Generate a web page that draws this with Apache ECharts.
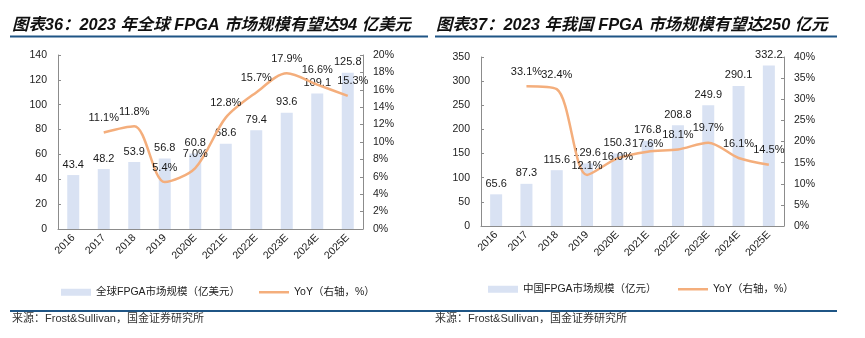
<!DOCTYPE html>
<html><head><meta charset="utf-8">
<script src="https://cdn.jsdelivr.net/npm/echarts@6/dist/echarts.min.js"></script>
<style>html,body{margin:0;padding:0;background:#fff}#c{width:865px;height:338px}</style>
</head><body><div id="c"></div>
<script>
const categories = ['2016','2017','2018','2019','2020E','2021E','2022E','2023E','2024E','2025E'];
const globalMarket = [43.4,48.2,53.9,56.8,60.8,68.6,79.4,93.6,109.1,125.8];
const globalYoY = ['-',11.1,11.8,5.4,7.0,12.8,15.7,17.9,16.6,15.3];
const chinaMarket = [65.6,87.3,115.6,129.6,150.3,176.8,208.8,249.9,290.1,332.2];
const chinaYoY = ['-',33.1,32.4,12.1,16.0,17.6,18.1,19.7,16.1,14.5];
const leftTitle = '图表36：2023 年全球 FPGA 市场规模有望达94 亿美元';
const rightTitle = '图表37：2023 年我国 FPGA 市场规模有望达250 亿元';
const sourceText = '来源：Frost&Sullivan，国金证券研究所';
const globalName = '全球FPGA市场规模（亿美元）';
const chinaName = '中国FPGA市场规模（亿元）';
const yoyName = 'YoY（右轴，%）';

const FONT = '"Liberation Sans","Noto Sans CJK SC",sans-serif';
const BAR = '#d9e2f3';
const LINE = '#f4ae7c';
const AX = '#8c8c8c';
const NAVY = '#1f5585';

// label nudges (index -> [dx, dy]) for YoY labels, as placed in the reference
const globalYoYNudge = {9:[5,0]};
const chinaYoYNudge = {3:[0,6], 4:[0,13], 5:[0,7]};

function xAxis(gi){
  return {type:'category', gridIndex:gi, data:categories, boundaryGap:true,
    axisLine:{lineStyle:{color:AX}}, axisTick:{show:false},
    axisLabel:{rotate:45, fontSize:10.5, color:'#222', fontFamily:FONT, margin:7, interval:0}};
}
function yAxis(gi, pos, min, max, interval, fmt){
  return {type:'value', gridIndex:gi, position:pos, min:min, max:max, interval:interval,
    splitLine:{show:false},
    axisLine:{show:true, lineStyle:{color:AX}},
    axisTick:{show:true, inside:true, length:3, lineStyle:{color:AX}},
    axisLabel:{fontSize:10.5, color:'#222', fontFamily:FONT, margin:pos==='left'?11:10, formatter:fmt}};
}
const valLabel = {show:true, position:'top', distance:5, fontSize:11, color:'#1a1a1a', fontFamily:FONT,
  formatter:p=>Number(p.value).toFixed(1)};
const pctLabel = {show:true, position:'top', distance:9, fontSize:11, color:'#1a1a1a', fontFamily:FONT,
  formatter:p=>Number(p.value).toFixed(1)+'%'};

function yoySeries(xi, yi, data, nudge){
  const items = data.map((v,i)=> nudge[i] ? {value:v, label:{offset:nudge[i]}} : v);
  return {name:yoyName, type:'line', xAxisIndex:xi, yAxisIndex:yi, data:items, smooth:0.3,
    symbol:'circle', symbolSize:0.01, showSymbol:true,
    lineStyle:{color:LINE, width:2.5}, itemStyle:{color:LINE},
    label:pctLabel, z:3};
}

const chart = echarts.init(document.getElementById('c'), null, {renderer:'canvas'});
chart.setOption({
  animation:false,
  backgroundColor:'#fff',
  grid:[
    {left:58, right:502, top:55, bottom:109},
    {left:481, right:81, top:57, bottom:112}
  ],
  xAxis:[xAxis(0), xAxis(1)],
  yAxis:[
    yAxis(0,'left',0,140,20,'{value}'),
    yAxis(0,'right',0,20,2,'{value}%'),
    yAxis(1,'left',0,350,50,'{value}'),
    yAxis(1,'right',0,40,5,'{value}%')
  ],
  legend:[
    {data:[globalName], left:56, top:282, icon:'rect', itemWidth:30, itemHeight:7,
      textStyle:{fontSize:10.5, color:'#222', fontFamily:FONT}},
    {data:[{name:yoyName}], left:254, top:282, icon:'rect', itemWidth:30, itemHeight:2.5,
      textStyle:{fontSize:10.5, color:'#222', fontFamily:FONT}},
    {data:[chinaName], left:483, top:279, icon:'rect', itemWidth:30, itemHeight:7,
      textStyle:{fontSize:10.5, color:'#222', fontFamily:FONT}},
    {data:[{name:yoyName}], left:673, top:279, icon:'rect', itemWidth:30, itemHeight:2.5,
      textStyle:{fontSize:10.5, color:'#222', fontFamily:FONT}}
  ],
  series:[
    {name:globalName, type:'bar', xAxisIndex:0, yAxisIndex:0, data:globalMarket, barWidth:12,
      itemStyle:{color:BAR}, label:valLabel, z:2},
    yoySeries(0,1,globalYoY,globalYoYNudge),
    {name:chinaName, type:'bar', xAxisIndex:1, yAxisIndex:2, data:chinaMarket, barWidth:12,
      itemStyle:{color:BAR}, label:valLabel, z:2},
    yoySeries(1,3,chinaYoY,chinaYoYNudge)
  ],
  graphic:[
    {type:'text', left:12, top:17, style:{text:leftTitle, fontSize:16.4, fontWeight:'bold', fontStyle:'italic', fill:'#111', fontFamily:FONT}},
    {type:'text', left:436, top:17, style:{text:rightTitle, fontSize:16.4, fontWeight:'bold', fontStyle:'italic', fill:'#111', fontFamily:FONT}},
    {type:'rect', shape:{x:10, y:35.5, width:418, height:2}, style:{fill:NAVY}},
    {type:'rect', shape:{x:435, y:35.5, width:402, height:2}, style:{fill:NAVY}},
    {type:'rect', shape:{x:10, y:310, width:420, height:2}, style:{fill:NAVY}},
    {type:'rect', shape:{x:430, y:310, width:407, height:2}, style:{fill:NAVY}},
    {type:'text', left:12, top:313, style:{text:sourceText, fontSize:11, fill:'#333', fontFamily:FONT}},
    {type:'text', left:435, top:313, style:{text:sourceText, fontSize:11, fill:'#333', fontFamily:FONT}}
  ]
});
</script></body></html>
